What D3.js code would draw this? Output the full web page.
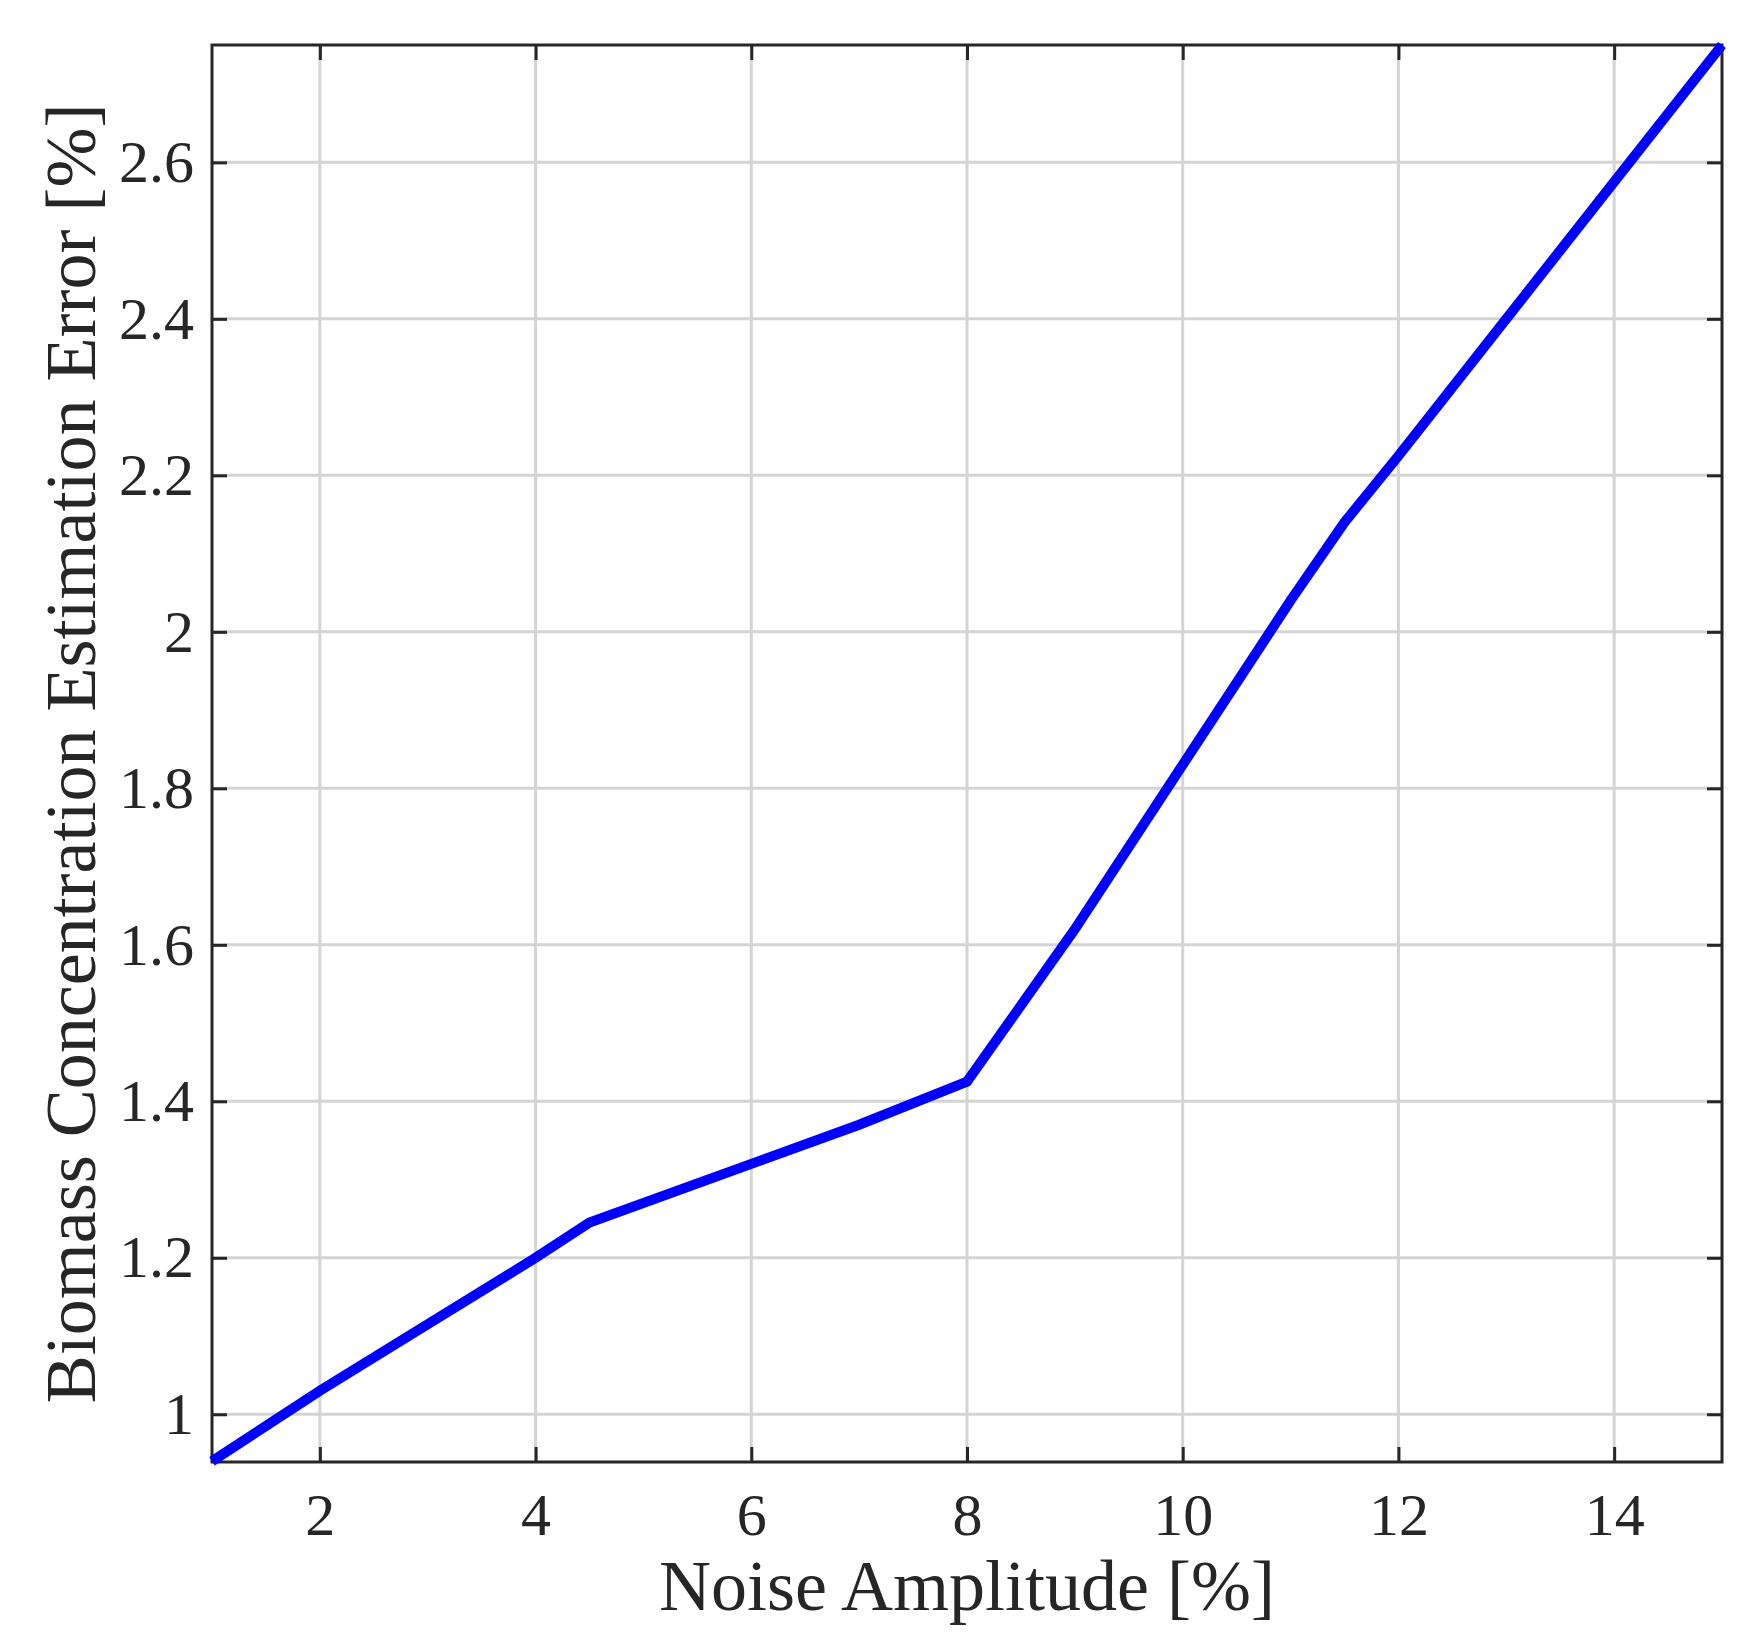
<!DOCTYPE html><html><head><script src="https://cdn.jsdelivr.net/npm/d3@7"></script>
<style>body{margin:0;background:#fff}</style></head><body><svg id="c" width="1738" height="1643"></svg>
<script>
const xs=[1,2,3,4,4.5,6,7,8,9,10,11,11.5,12,13,14,15];
const ys=[0.94,1.03,1.115,1.2,1.245,1.32,1.37,1.425,1.62,1.83,2.04,2.14,2.225,2.40,2.575,2.75];
const xTicks=[2,4,6,8,10,12,14];
const yTicks=[1,1.2,1.4,1.6,1.8,2,2.2,2.4,2.6];
const svg=d3.select("#c");
const L=212,R=1722,T=45,B=1462;
const x=d3.scaleLinear().domain([1,15]).range([L,R]);
const y=d3.scaleLinear().domain([0.939,2.75]).range([B,T]);
const f="Liberation Serif";
const g=svg.append("g");
g.selectAll(".gx").data(xTicks).join("line").attr("x1",d=>x(d)).attr("x2",d=>x(d)).attr("y1",T).attr("y2",B).attr("stroke","#d4d4d4").attr("stroke-width",3);
g.selectAll(".gy").data(yTicks).join("line").attr("y1",d=>y(d)).attr("y2",d=>y(d)).attr("x1",L).attr("x2",R).attr("stroke","#d4d4d4").attr("stroke-width",3);
const ax=svg.append("g").attr("transform",`translate(0,${B})`).call(d3.axisBottom(x).tickValues(xTicks).tickSize(-15).tickPadding(30).tickFormat(d3.format("d")));
const ax2=svg.append("g").attr("transform",`translate(0,${T})`).call(d3.axisTop(x).tickValues(xTicks).tickSize(-15).tickFormat(""));
const ay=svg.append("g").attr("transform",`translate(${L},0)`).call(d3.axisLeft(y).tickValues(yTicks).tickSize(-15).tickPadding(18).tickFormat(d=>d3.format("")(+d.toFixed(1))));
const ay2=svg.append("g").attr("transform",`translate(${R},0)`).call(d3.axisRight(y).tickValues(yTicks).tickSize(-15).tickFormat(""));
[ax,ax2,ay,ay2].forEach(a=>{a.select(".domain").remove();a.selectAll("line").attr("stroke","#262626").attr("stroke-width",3);a.selectAll("text").attr("font-family",f).attr("font-size",60).attr("fill","#262626");});
svg.append("rect").attr("x",L).attr("y",T).attr("width",R-L).attr("height",B-T).attr("fill","none").attr("stroke","#262626").attr("stroke-width",3);
svg.append("path").datum(xs.map((v,i)=>[v,ys[i]])).attr("d",d3.line().x(d=>x(d[0])).y(d=>y(d[1]))).attr("fill","none").attr("stroke","#0000ff").attr("stroke-width",10);
svg.append("text").attr("x",(L+R)/2).attr("y",1610).attr("text-anchor","middle").attr("font-family",f).attr("font-size",72).attr("fill","#262626").text("Noise Amplitude [%]");
svg.append("text").attr("transform",`translate(95,${(T+B)/2}) rotate(-90)`).attr("text-anchor","middle").attr("font-family",f).attr("font-size",72).attr("fill","#262626").text("Biomass Concentration Estimation Error [%]");
</script></body></html>
